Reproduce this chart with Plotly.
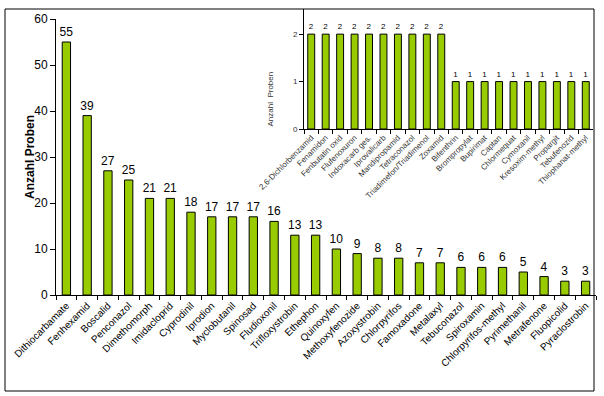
import plotly.graph_objects as go

main_cats = ["Dithiocarbamate", "Fenhexamid", "Boscalid", "Penconazol", "Dimethomorph",
             "Imidacloprid", "Cyprodinil", "Iprodion", "Myclobutanil", "Spinosad",
             "Fludioxonil", "Trifloxystrobin", "Ethephon", "Quinoxyfen", "Methoxyfenozide",
             "Azoxystrobin", "Chlorpyrifos", "Famoxadone", "Metalaxyl", "Tebuconazol",
             "Spiroxamin", "Chlorpyrifos-methyl", "Pyrimethanil", "Metrafenone",
             "Fluopicolid", "Pyraclostrobin"]
main_vals = [55, 39, 27, 25, 21, 21, 18, 17, 17, 17, 16, 13, 13, 10, 9, 8, 8, 7, 7,
             6, 6, 6, 5, 4, 3, 3]

inset_cats = ["2,6-Dichlorbenzamid", "Fenamidon", "Fenbutatin oxid", "Flufenoxuron",
              "Indoxacarb ges.", "Iprovalicarb", "Mandipropamid", "Tetraconazol",
              "Triadimefon/Triadimenol", "Zoxamid", "Bifenthrin", "Brompropylat",
              "Bupirimat", "Captan", "Chlormequat", "Cymoxanil", "Kresoxim-methyl",
              "Propargit", "Tebufenozid", "Thiophanat-methyl"]
inset_vals = [2, 2, 2, 2, 2, 2, 2, 2, 2, 2, 1, 1, 1, 1, 1, 1, 1, 1, 1, 1]

main_yticks = [0, 10, 20, 30, 40, 50, 60]
inset_yticks = [0, 1, 2]

W, H = 604, 396
def px(x):
    return x / W
def py(y):
    return 1 - y / H

BAR = "#99CC00"
FONT = "Arial, Liberation Sans, sans-serif"

fig = go.Figure()
fig.add_trace(go.Bar(
    x=main_cats, y=main_vals, xaxis="x", yaxis="y",
    marker=dict(color=BAR, line=dict(color="black", width=1)),
    width=0.4, text=main_vals, textposition="outside", constraintext="none",
    textfont=dict(size=12, color="black", family=FONT), cliponaxis=False,
    showlegend=False, hoverinfo="skip"))
fig.add_trace(go.Bar(
    x=inset_cats, y=inset_vals, xaxis="x2", yaxis="y2",
    marker=dict(color=BAR, line=dict(color="black", width=1)),
    width=0.48, text=inset_vals, textposition="outside", constraintext="none",
    textfont=dict(size=8, color="black", family=FONT), cliponaxis=False,
    showlegend=False, hoverinfo="skip"))

fig.update_layout(
    width=W, height=H,
    margin=dict(l=0, r=0, t=0, b=0),
    paper_bgcolor="white", plot_bgcolor="rgba(0,0,0,0)",
    font=dict(family=FONT, color="black"),
    xaxis=dict(domain=[px(56), px(596)], anchor="y", type="category",
               showline=True, linecolor="black", linewidth=1,
               ticks="outside", ticklen=4, tickcolor="black", tickson="boundaries",
               tickangle=-45, tickfont=dict(size=10, color="black"),
               showgrid=False, automargin=False, fixedrange=True),
    yaxis=dict(domain=[py(295), py(19)], anchor="x", range=[0, 60],
               tickvals=main_yticks, showline=True, linecolor="black", linewidth=1,
               ticks="outside", ticklen=5, tickcolor="black",
               tickfont=dict(size=12, color="black"),
               showgrid=False, zeroline=False, automargin=False),
    xaxis2=dict(domain=[px(304), px(593)], anchor="y2", type="category",
                showline=True, linecolor="black", linewidth=1,
                ticks="outside", ticklen=4, tickcolor="black", tickson="boundaries",
                tickangle=-45, tickfont=dict(size=8, color="#333333"),
                showgrid=False, automargin=False),
    yaxis2=dict(domain=[py(129), py(9)], anchor="x2", range=[0, 2.53],
                tickvals=inset_yticks, showline=True, linecolor="black", linewidth=1,
                ticks="outside", ticklen=4, tickcolor="black",
                tickfont=dict(size=8, color="#333333"),
                showgrid=False, zeroline=False, automargin=False),
    bargap=0.6,
    annotations=[
        dict(text="<b>Anzahl Proben</b>", xref="paper", yref="paper",
             x=px(21), y=py(157), textangle=-90, showarrow=False,
             font=dict(size=12, color="black", family=FONT)),
        dict(text="Anzahl  Proben", xref="paper", yref="paper",
             x=px(270), y=py(70), textangle=-90, showarrow=False,
             font=dict(size=8, color="#333333", family=FONT)),
    ],
    shapes=[
        dict(type="rect", xref="paper", yref="paper",
             x0=px(5), y0=py(391), x1=px(594), y1=py(9),
             line=dict(color="black", width=1)),
    ],
)

fig.write_html("out.html", config={"displayModeBar": False},
               post_script="document.body.style.margin='0';document.body.style.overflow='hidden';")
